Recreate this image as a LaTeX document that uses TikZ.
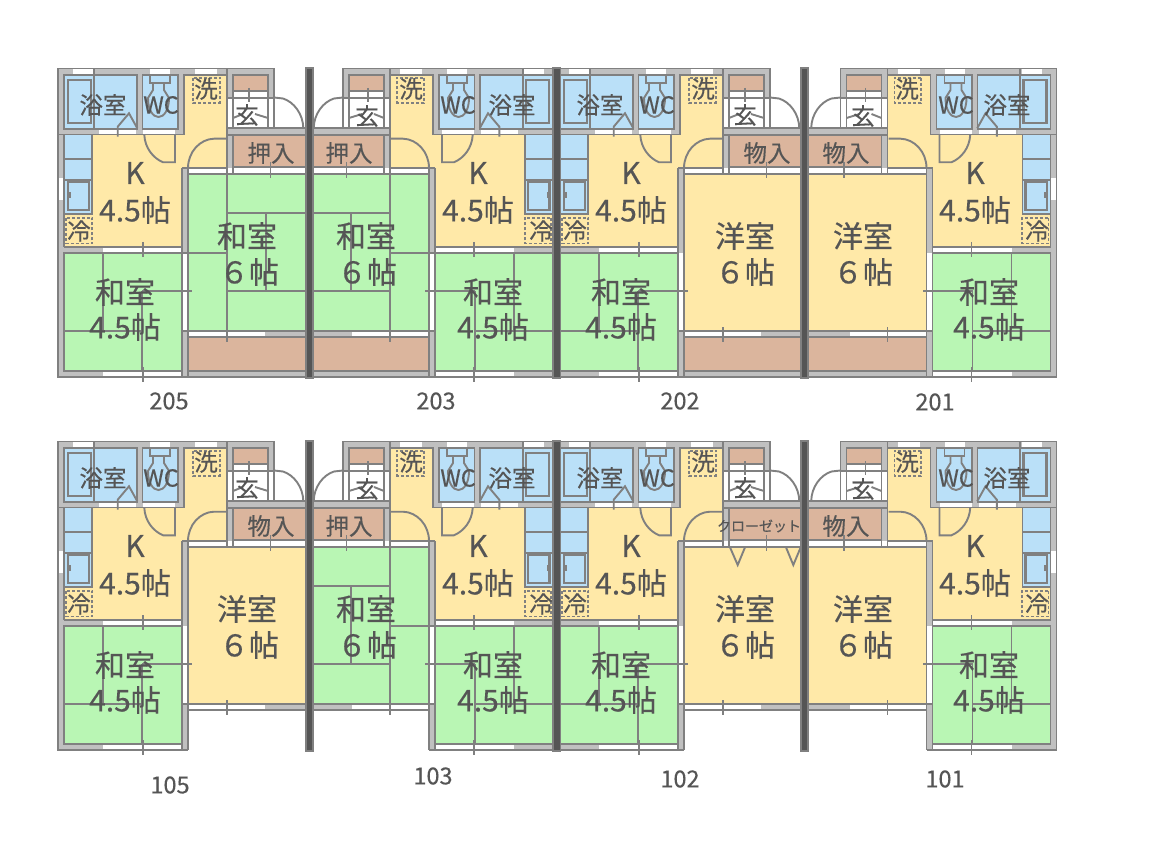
\documentclass[tikz,border=0pt]{standalone}
\usepackage{fontspec}
\setmainfont[FakeBold=0.35]{Noto Sans CJK JP}
\definecolor{wallc}{HTML}{C0C0C0}
\definecolor{linec}{HTML}{808080}
\definecolor{greenc}{HTML}{B9F6B4}
\definecolor{yellowc}{HTML}{FFE9A8}
\definecolor{brownc}{HTML}{DBB59D}
\definecolor{bluec}{HTML}{BAE0F8}
\definecolor{textc}{HTML}{555555}
\definecolor{darkc}{HTML}{555555}
\tikzset{
  pl/.style={draw=linec,line width=1.9pt},
  thk/.style={draw=linec,line width=2.4pt},
  dashbox/.style={draw=linec,line width=1.7pt,dash pattern=on 3pt off 2pt},
  lab/.style={text=textc,inner sep=0pt,font=\fontsize{30}{30}\selectfont},
  labs/.style={text=textc,inner sep=0pt,font=\fontsize{23.5}{23.5}\selectfont},
  labt/.style={text=textc,inner sep=0pt,font=\fontsize{14}{14}\selectfont},
  divider/.style={fill=darkc,draw=linec,line width=1.2pt}
}
% #1 room colour, #2 tatami(1/0), #3 bottom closet(1/0)
\newcommand\flatplan[3]{%
  % walls
  \fill[wallc] (58,68.5) rectangle (227,75);
  \fill[wallc] (58,68.5) rectangle (64,377);
  \fill[wallc] (58,129) rectangle (184,134.5);
  \fill[wallc] (137,68.5) rectangle (142.5,134);
  \fill[wallc] (178,68.5) rectangle (184,134);
  \fill[wallc] (227,68.5) rectangle (274,75);
  \fill[wallc] (227,68.5) rectangle (233,98);
  \fill[wallc] (268,68.5) rectangle (274,98);
  \fill[wallc] (227,128) rectangle (306,135);
  \fill[wallc] (227,135) rectangle (233,174);
  \fill[wallc] (182,168) rectangle (188,253);
  \fill[wallc] (182,331) rectangle (188,377);
  \fill[wallc] (58,371) rectangle (103,377);
  \fill[wallc] (58,247) rectangle (103,253);
  \fill[wallc] (265,331) rectangle (306,337);
  \ifnum#3=1 \fill[wallc] (182,371) rectangle (306,377);\fi
  % windows
  \fill[white] (73,68.5) rectangle (93,75);
  \fill[white] (150,68.5) rectangle (170,75);
  \fill[white] (195,68.5) rectangle (217,75);
  \fill[white] (99,129) rectangle (136,134);
  \fill[white] (143,129) rectangle (175,134);
  \fill[white] (58,178) rectangle (64,200);
  \fill[white] (103,247) rectangle (182,253);
  \fill[white] (103,371) rectangle (182,377);
  \fill[white] (182,253) rectangle (188,331);
  \fill[white] (188,168) rectangle (306,174);
  \fill[white] (188,331) rectangle (265,337);
  % rooms
  \fill[bluec] (64,75) rectangle (137,129);
  \fill[bluec] (142.5,75) rectangle (178,129);
  \fill[bluec] (64,134.5) rectangle (92,214);
  \fill[yellowc] (92,134.5) -- (184,134.5) -- (184,75) -- (227,75) -- (227,168) -- (182,168) -- (182,247) -- (64,247) -- (64,214) -- (92,214) -- cycle;
  \fill[brownc] (233,75) rectangle (268,91);
  \fill[brownc] (233,135) rectangle (306,167);
  \fill[#1] (188,174) rectangle (306,331);
  \fill[greenc] (64,253) rectangle (182,371);
  \ifnum#3=1 \fill[brownc] (188,337) rectangle (306,371);\fi
  % wall lines
  \draw[pl] (274,128) -- (274,68.5) -- (58,68.5) -- (58,377) -- (188,377);
  \draw[pl] (64,75) rectangle (137,129);
  \draw[pl] (142.5,75) rectangle (178,129);
  \draw[pl] (58,134.5) -- (184,134.5) -- (184,75) -- (227,75);
  \draw[pl] (64,134.5) -- (64,247);
  \draw[pl] (94.3,68.5) -- (94.3,129);
  \draw[pl] (233,75) rectangle (268,91);
  \draw[pl] (227,68.5) -- (227,174);
  \draw[pl] (227,98) -- (274,98);
  \draw[pl] (233,91) -- (233,128);
  \draw[pl] (268,91) -- (268,128);
  \draw[pl] (227,128) -- (306,128);
  \draw[pl] (227,135) -- (306,135);
  \draw[pl] (233,135) -- (233,174);
  \draw[pl] (233,167) -- (306,167);
  \draw[pl] (182,168) -- (227,168);
  \draw[pl] (188,174) -- (306,174);
  \draw[pl] (182,168) -- (182,377);
  \draw[pl] (188,168) -- (188,377);
  \draw[pl] (64,247) -- (182,247);
  \draw[pl] (64,253) rectangle (182,371);
  \draw[pl] (182,331) -- (306,331);
  \draw[pl] (188,337) -- (306,337);
  \ifnum#3=1 \draw[pl] (188,371) -- (306,371); \draw[pl] (188,377) -- (306,377);\fi
  % kitchen counter
  \draw[pl] (92,134.5) -- (92,214) -- (64,214);
  \draw[pl] (64,159) -- (92,159);
  \draw[pl] (64,180) -- (92,180);
  \draw[thk] (67.7,182) rectangle (89,210);
  \fill[linec] (67.5,191.7) rectangle (70.5,198);
  \draw[dashbox] (66,218) rectangle (92.3,243.5);
  \draw[dashbox] (193.3,77.7) rectangle (220,102.7);
  % bath
  \draw[thk] (68,80) rectangle (91,123);
  \draw[pl] (117.7,136.7) -- (117.7,126.7) -- (129,113.3) -- (137.3,128.3);
  % toilet
  \draw[pl] (150,75) rectangle (170,83);
  \draw[pl] (153,83) -- (153,90) -- (148,98) .. controls (148,110) and (153,117) .. (158.5,117) .. controls (164,117) and (169,110) .. (169,98) -- (164,90) -- (164,83);
  % doors
  \draw[pl] (175,134.5) -- (175,162.3) -- (163,162.3) .. controls (153,158) and (145,148) .. (144.3,135);
  \draw[pl] (226,138.7) -- (214,138.7) .. controls (200,139) and (188,152) .. (188,168);
  \draw[pl] (274,97.5) -- (283,98.5) .. controls (294,102) and (303,114) .. (303.3,128);
  % genkan step
  \draw[pl] (233,118) -- (243,114);
  \draw[pl] (255,114) -- (268,118);
  % ticks
  \draw[pl] (249,88) -- (249,102);
  \draw[pl] (270.5,162) -- (270.5,178);
  \draw[pl] (143,242) -- (143,257);
  \draw[pl] (143,367) -- (143,382);
  % 4.5-mat tatami
  \draw[pl] (103,253) -- (103,331);
  \draw[pl] (64,331) -- (142,331);
  \draw[pl] (142,291) -- (142,371);
  \draw[pl] (142,291) -- (192,291);
  % 6-mat tatami
  \ifnum#2=1
    \draw[pl] (182,253) -- (227,253);
    \draw[pl] (227,174) -- (227,342);
    \draw[pl] (227,213) -- (306,213);
    \draw[pl] (266,213) -- (266,291);
    \draw[pl] (227,291) -- (306,291);
  \else
    \draw[pl] (227,327) -- (227,342);
  \fi
}
\newcommand\vfold[1]{%
  \draw[pl] (730,#1) -- (737.7,565) -- (745,#1);
  \draw[pl] (786,#1) -- (793.3,565) -- (800.7,#1);
}
\begin{document}
\begin{tikzpicture}[x=1pt,y=-1pt]
\useasboundingbox (0,0) rectangle (1150,850);
\fill[white] (0,0) rectangle (1150,850);
% upper row
\begin{scope}\flatplan{greenc}{1}{1}\end{scope}
\begin{scope}[shift={(617,0)},xscale=-1]\flatplan{greenc}{1}{1}\end{scope}
\begin{scope}[shift={(496,0)}]\flatplan{yellowc}{0}{1}\end{scope}
\begin{scope}[shift={(1114.5,0)},xscale=-1]\flatplan{yellowc}{0}{1}\end{scope}
% lower row
\begin{scope}[shift={(0,373)}]\flatplan{yellowc}{0}{0}\end{scope}
\begin{scope}[shift={(617,373)},xscale=-1]\flatplan{greenc}{1}{0}\end{scope}
\begin{scope}[shift={(496,373)}]\flatplan{yellowc}{0}{0}\end{scope}
\begin{scope}[shift={(1114.5,373)},xscale=-1]\flatplan{yellowc}{0}{0}\end{scope}
\vfold{547.3}
% dividers
\draw[divider] (306,68) rectangle (313,378);
\draw[divider] (553,68) rectangle (560.5,378);
\draw[divider] (801,68) rectangle (808,378);
\draw[divider] (306,441) rectangle (313,751);
\draw[divider] (553,441) rectangle (560.5,751);
\draw[divider] (801,441) rectangle (808,751);
% labels: 205
\node[labs] (a1) at (103,105) {浴室};
\node[labs] (a2) at (161,105) {WC};
\node[labs] (a3) at (206,89) {洗};
\node[labs] (a4) at (247,115) {玄};
\node[lab] (a5) at (135,173) {K};
\node[lab] (a6) at (135,210) {4.5帖};
\node[labs] (a7) at (79,231) {冷};
\node[labs] (a8) at (271,153) {押入};
\node[lab] (a9) at (247,236) {和室};
\node[lab] (a10) at (249,272) {６帖};
\node[lab] (a11) at (125,292) {和室};
\node[lab] (a12) at (125,327) {4.5帖};
\node[labs] (a13) at (169,401) {205};
% 203
\node[labs] (b1) at (512,105) {浴室};
\node[labs] (b2) at (458,105) {WC};
\node[labs] (b3) at (411,89) {洗};
\node[labs] (b4) at (367,116) {玄};
\node[lab] (b5) at (478,173) {K};
\node[lab] (b6) at (478,210) {4.5帖};
\node[labs] (b7) at (541,231) {冷};
\node[labs] (b8) at (349,153) {押入};
\node[lab] (b9) at (366,236) {和室};
\node[lab] (b10) at (367,272) {６帖};
\node[lab] (b11) at (493,292) {和室};
\node[lab] (b12) at (493,327) {4.5帖};
\node[labs] (b13) at (436,401) {203};
% 202
\node[labs] (c1) at (600,105) {浴室};
\node[labs] (c2) at (657,105) {WC};
\node[labs] (c3) at (703,89) {洗};
\node[labs] (c4) at (745,115) {玄};
\node[lab] (c5) at (631,173) {K};
\node[lab] (c6) at (631,210) {4.5帖};
\node[labs] (c7) at (575,231) {冷};
\node[labs] (c8) at (767,153) {物入};
\node[lab] (c9) at (745,236) {洋室};
\node[lab] (c10) at (745,272) {６帖};
\node[lab] (c11) at (621,292) {和室};
\node[lab] (c12) at (621,327) {4.5帖};
\node[labs] (c13) at (680,401) {202};
% 201
\node[labs] (d1) at (1007,105) {浴室};
\node[labs] (d2) at (956,105) {WC};
\node[labs] (d3) at (907,89) {洗};
\node[labs] (d4) at (863,116) {玄};
\node[lab] (d5) at (975,173) {K};
\node[lab] (d6) at (975,210) {4.5帖};
\node[labs] (d7) at (1037,231) {冷};
\node[labs] (d8) at (846,153) {物入};
\node[lab] (d9) at (863,236) {洋室};
\node[lab] (d10) at (863,272) {６帖};
\node[lab] (d11) at (989,292) {和室};
\node[lab] (d12) at (989,327) {4.5帖};
\node[labs] (d13) at (935,402) {201};
% 105
\node[labs] (e1) at (103,478) {浴室};
\node[labs] (e2) at (161,478) {WC};
\node[labs] (e3) at (206,462) {洗};
\node[labs] (e4) at (247,488) {玄};
\node[lab] (e5) at (135,546) {K};
\node[lab] (e6) at (135,583) {4.5帖};
\node[labs] (e7) at (79,604) {冷};
\node[labs] (e8) at (271,526) {物入};
\node[lab] (e9) at (247,609) {洋室};
\node[lab] (e10) at (249,645) {６帖};
\node[lab] (e11) at (125,665) {和室};
\node[lab] (e12) at (125,700) {4.5帖};
\node[labs] (e13) at (170,785) {105};
% 103
\node[labs] (f1) at (512,478) {浴室};
\node[labs] (f2) at (458,478) {WC};
\node[labs] (f3) at (411,462) {洗};
\node[labs] (f4) at (367,489) {玄};
\node[lab] (f5) at (478,546) {K};
\node[lab] (f6) at (478,583) {4.5帖};
\node[labs] (f7) at (541,604) {冷};
\node[labs] (f8) at (349,526) {押入};
\node[lab] (f9) at (366,609) {和室};
\node[lab] (f10) at (367,645) {６帖};
\node[lab] (f11) at (493,665) {和室};
\node[lab] (f12) at (493,700) {4.5帖};
\node[labs] (f13) at (433,776) {103};
% 102
\node[labs] (g1) at (600,478) {浴室};
\node[labs] (g2) at (657,478) {WC};
\node[labs] (g3) at (703,462) {洗};
\node[labs] (g4) at (745,488) {玄};
\node[lab] (g5) at (631,546) {K};
\node[lab] (g6) at (631,583) {4.5帖};
\node[labs] (g7) at (575,604) {冷};
\node[labt] (g8) at (759,526) {クローゼット};
\node[lab] (g9) at (745,609) {洋室};
\node[lab] (g10) at (745,645) {６帖};
\node[lab] (g11) at (621,665) {和室};
\node[lab] (g12) at (621,700) {4.5帖};
\node[labs] (g13) at (680,779) {102};
% 101
\node[labs] (h1) at (1007,478) {浴室};
\node[labs] (h2) at (956,478) {WC};
\node[labs] (h3) at (907,462) {洗};
\node[labs] (h4) at (863,489) {玄};
\node[lab] (h5) at (975,546) {K};
\node[lab] (h6) at (975,583) {4.5帖};
\node[labs] (h7) at (1037,604) {冷};
\node[labs] (h8) at (846,526) {物入};
\node[lab] (h9) at (863,609) {洋室};
\node[lab] (h10) at (863,645) {６帖};
\node[lab] (h11) at (989,665) {和室};
\node[lab] (h12) at (989,700) {4.5帖};
\node[labs] (h13) at (945,779) {101};
\end{tikzpicture}
\end{document}
